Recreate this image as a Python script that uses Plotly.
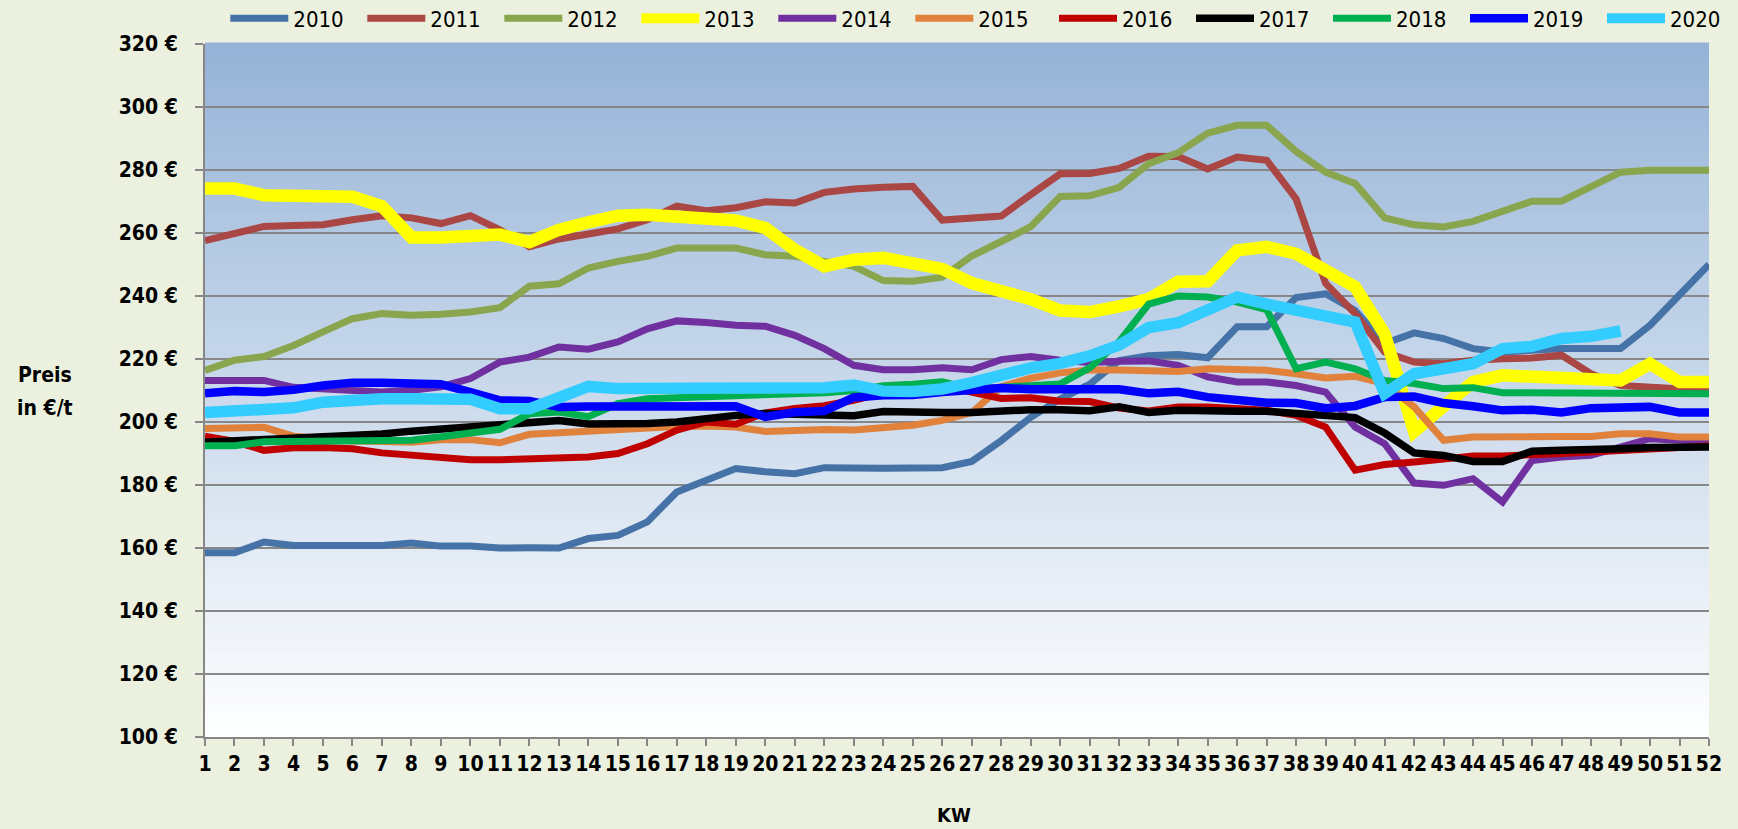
import plotly.graph_objects as go

# ---------------- data ----------------
weeks = list(range(1, 53))
week_labels = [str(w) for w in weeks]
y_ticks = [100, 120, 140, 160, 180, 200, 220, 240, 260, 280, 300, 320]
years = ["2010", "2011", "2012", "2013", "2014", "2015", "2016", "2017", "2018", "2019", "2020"]

p2010 = [158.5, 158.5, 161.9, 160.8, 160.8, 160.8, 160.8, 161.6, 160.6, 160.6, 160.0, 160.1, 160.0,
         163.0, 164.0, 168.3, 177.8, 181.5, 185.2, 184.2, 183.6, 185.5, 185.2, 185.3, 185.4, 185.5,
         187.5, 194.1, 201.5, 207.3, 212.0, 219.5, 221.0, 221.4, 220.4, 230.2, 230.2, 239.5, 240.7,
         235.4, 224.9, 228.3, 226.5, 223.3, 222.2, 222.8, 223.3, 223.3, 223.3, 230.7, 240.0, 250.0]
p2011 = [257.6, 260.0, 262.1, 262.4, 262.6, 264.2, 265.5, 264.8, 263.0, 265.5, 261.0, 255.6, 258.1,
         259.7, 261.3, 264.2, 268.5, 267.1, 268.0, 269.9, 269.5, 272.9, 274.0, 274.5, 274.8, 264.1,
         264.9, 265.4, 272.2, 278.8, 278.9, 280.5, 284.4, 284.3, 280.3, 284.1, 283.1, 270.8, 244.0,
         234.4, 222.2, 219.0, 218.5, 219.6, 220.1, 220.3, 221.2, 215.3, 211.6, 211.1, 210.6, 210.0]
p2012 = [216.4, 219.6, 220.8, 224.3, 228.6, 232.8, 234.4, 233.9, 234.2, 234.9, 236.3, 243.1, 243.9,
         248.9, 251.0, 252.6, 255.2, 255.2, 255.2, 253.1, 252.6, 251.0, 249.4, 244.9, 244.7, 246.0,
         252.7, 257.3, 262.0, 271.6, 271.8, 274.5, 282.0, 285.5, 291.7, 294.2, 294.2, 285.9, 279.3,
         275.7, 264.8, 262.6, 261.9, 263.7, 266.9, 270.1, 270.1, 274.8, 279.3, 279.9, 279.9, 279.9]
p2013 = [274.1, 274.1, 272.0, 272.0, 271.7, 271.5, 268.5, 258.6, 258.6, 258.6, 259.5, 257.1, 261.0,
         263.4, 265.5, 265.8, 265.3, 264.2, 264.0, 261.6, 254.7, 249.4, 251.5, 252.1, 250.0, 248.6,
         244.1, 242.0, 239.0, 235.4, 234.9, 236.7, 239.0, 244.5, 244.7, 254.5, 255.6, 253.4, 247.8,
         242.9, 228.0, 197.0, 205.0, 212.7, 214.8, 214.3, 213.8, 213.2, 213.2, 218.5, 212.7, 212.7]
p2014 = [213.2, 213.2, 213.2, 211.0, 210.5, 210.3, 209.5, 210.1, 211.2, 213.8, 219.0, 220.6, 223.8,
         223.1, 225.4, 229.6, 232.1, 231.6, 230.7, 230.4, 227.5, 223.3, 218.0, 216.6, 216.6, 217.2,
         216.6, 219.8, 220.8, 219.6, 218.9, 219.3, 219.4, 218.0, 214.3, 212.7, 212.7, 211.6, 209.5,
         198.4, 193.1, 180.6, 179.9, 182.0, 174.6, 187.8, 188.9, 189.4, 192.1, 194.7, 194.2, 193.7]
p2015 = [197.9, 198.3, 198.3, 195.5, 194.5, 194.0, 193.8, 193.6, 194.4, 194.4, 193.4, 196.1, 196.6,
         197.1, 198.1, 198.4, 198.6, 198.7, 198.4, 197.0, 197.5, 197.6, 197.5, 198.3, 199.0, 200.5,
         203.0, 211.2, 213.9, 215.6, 216.5, 216.5, 216.0, 216.0, 216.9, 216.4, 216.4, 215.3, 214.0,
         214.5, 212.2, 204.8, 194.2, 195.2, 195.4, 195.4, 195.4, 195.4, 196.3, 196.3, 195.2, 195.2]
p2016 = [195.5, 193.8, 191.0, 191.8, 191.9, 191.5, 190.2, 189.4, 188.7, 188.0, 188.0, 188.4, 188.4,
         188.9, 190.0, 193.1, 197.4, 200.0, 199.3, 202.9, 204.3, 205.2, 206.9, 209.0, 211.6, 211.5,
         209.5, 207.5, 207.7, 206.6, 206.5, 204.4, 203.5, 204.8, 204.8, 204.4, 203.7, 202.1, 198.4,
         184.7, 186.5, 187.3, 188.4, 189.2, 189.2, 189.4, 190.0, 190.5, 191.0, 191.5, 191.5, 192.4]
p2017 = [193.6, 194.0, 194.7, 195.3, 195.7, 195.8, 196.2, 197.1, 197.8, 198.2, 198.7, 199.7, 200.5,
         199.4, 199.3, 199.5, 200.0, 201.3, 202.1, 202.7, 202.5, 202.7, 202.0, 203.3, 202.9, 203.0,
         203.0, 203.5, 203.9, 203.9, 203.6, 204.8, 203.0, 203.7, 203.4, 203.4, 203.4, 202.9, 202.4,
         201.4, 196.5, 190.2, 189.4, 187.5, 187.5, 190.7, 191.0, 191.0, 191.5, 191.9, 191.9, 192.1]
p2018 = [192.5, 192.5, 193.7, 193.8, 193.7, 193.8, 193.9, 194.2, 195.3, 196.3, 197.7, 202.6, 203.2,
         201.7, 205.8, 207.4, 207.7, 207.9, 207.9, 208.3, 208.8, 209.3, 210.0, 211.5, 212.0, 212.8,
         210.5, 211.0, 211.5, 212.1, 217.2, 225.5, 237.4, 240.0, 239.7, 238.1, 235.7, 216.9, 219.0,
         216.9, 213.2, 212.2, 210.6, 210.9, 209.3, 209.3, 209.3, 208.8, 208.8, 208.8, 209.0, 209.0]
p2019 = [209.1, 209.8, 209.5, 210.2, 211.6, 212.5, 212.5, 212.0, 212.0, 209.5, 206.9, 206.7, 204.8,
         204.9, 205.0, 205.0, 205.0, 205.0, 205.0, 201.6, 203.1, 203.5, 207.8, 208.5, 208.6, 209.5,
         210.3, 210.8, 210.4, 210.5, 210.5, 210.4, 209.1, 209.6, 207.9, 206.7, 206.1, 206.0, 204.4,
         205.1, 207.9, 208.1, 206.0, 205.0, 203.7, 203.9, 203.0, 204.4, 204.4, 204.8, 203.0, 203.0]
p2020 = [203.0, 203.4, 203.7, 204.5, 206.3, 207.1, 207.4, 207.4, 207.4, 207.2, 204.2, 204.2, 207.7,
         211.3, 210.6, 210.6, 210.3, 211.1, 210.9, 210.7, 210.2, 210.9, 211.7, 209.8, 209.7, 210.5,
         212.5, 215.0, 217.2, 218.6, 221.0, 224.4, 230.0, 231.5, 236.0, 239.7, 237.4, 235.2, 233.3,
         231.7, 209.0, 215.3, 216.9, 218.5, 223.3, 224.0, 226.5, 227.2, 228.9]

values = [p2010, p2011, p2012, p2013, p2014, p2015, p2016, p2017, p2018, p2019, p2020]

# ---------------- styling ----------------
line_colors = ["#4572A7", "#AA4643", "#89A54E", "#FFFF00", "#7030A0", "#E0823C",
               "#C00000", "#000000", "#00B050", "#0000FF", "#33CCFF"]
line_widths = [7, 7, 7, 12.5, 7, 7, 7, 7.5, 7, 8.5, 11.5]

FONT = "DejaVu Sans Condensed, Liberation Sans Narrow, Arial Narrow, sans-serif"
GRID = "#878787"
OUTER_BG = "#EBF1DE"

fig = go.Figure()
for i, (name, vals, col, lw) in enumerate(zip(years, values, line_colors, line_widths)):
    fig.add_trace(go.Scatter(
        x=weeks[:len(vals)], y=vals, name=name, mode="lines",
        line=dict(color=col, width=lw),
        legend="legend" if i < 6 else "legend2",
        hovertemplate="KW %{x}: %{y:.1f} €/t<extra>" + name + "</extra>",
    ))

# gradient background of the plot area (top #95B3D7 -> bottom white)
top_rgb = (149, 179, 215)
bot_rgb = (255, 255, 255)
N = 90
shapes = []
for i in range(N):
    t = (i + 0.5) / N  # 0 at bottom, 1 at top
    r = round(bot_rgb[0] + (top_rgb[0] - bot_rgb[0]) * t)
    g = round(bot_rgb[1] + (top_rgb[1] - bot_rgb[1]) * t)
    b = round(bot_rgb[2] + (top_rgb[2] - bot_rgb[2]) * t)
    shapes.append(dict(type="rect", xref="paper", yref="paper", x0=0, x1=1,
                       y0=i / N, y1=(i + 1) / N + 0.002, fillcolor=f"rgb({r},{g},{b})",
                       line=dict(width=0), layer="below"))

legend_common = dict(orientation="h", xanchor="left", y=1.037, yanchor="middle",
                     bgcolor="rgba(0,0,0,0)", font=dict(family=FONT, size=22, color="#000000"),
                     itemwidth=58, entrywidth=64, entrywidthmode="pixels",
                     traceorder="normal", itemclick=False, itemdoubleclick=False)

fig.update_layout(
    width=1738, height=829,
    margin=dict(l=205, r=29, t=44, b=92, autoexpand=False),
    paper_bgcolor=OUTER_BG,
    plot_bgcolor="rgba(0,0,0,0)",
    shapes=shapes,
    showlegend=True,
    legend=dict(x=0.0135, **legend_common),
    legend2=dict(x=0.5645, **legend_common),
    xaxis=dict(range=[1, 52], tickmode="array", tickvals=weeks, ticktext=week_labels,
               tickangle=0, showgrid=False, zeroline=False,
               showline=True, linecolor=GRID, linewidth=2,
               ticks="outside", ticklen=7, tickwidth=1.5, tickcolor=GRID,
               tickfont=dict(family=FONT, size=21, color="#000000", weight="bold")),
    yaxis=dict(range=[100, 320], tickmode="array", tickvals=y_ticks,
               ticktext=[f"{v} €" for v in y_ticks],
               showgrid=True, gridcolor=GRID, gridwidth=2, zeroline=False,
               showline=True, linecolor=GRID, linewidth=2,
               ticks="outside", ticklen=8, tickwidth=1.5, tickcolor=GRID,
               ticklabelstandoff=13,
               tickfont=dict(family=FONT, size=21, color="#000000", weight="bold")),
    annotations=[
        dict(text="Preis", xref="paper", yref="paper", x=-0.1063, y=0.5224,
             xanchor="center", yanchor="middle", showarrow=False,
             font=dict(family=FONT, size=21, color="#000000", weight="bold")),
        dict(text="in €/t", xref="paper", yref="paper", x=-0.1063, y=0.4747,
             xanchor="center", yanchor="middle", showarrow=False,
             font=dict(family=FONT, size=21, color="#000000", weight="bold")),
        dict(text="KW", xref="paper", yref="paper", x=0.498, y=-0.113,
             xanchor="center", yanchor="middle", showarrow=False,
             font=dict(family=FONT, size=20, color="#000000", weight="bold")),
    ],
)

fig.write_html("out.html",
               config={"displayModeBar": False},
               post_script="document.body.style.margin='0';document.body.style.padding='0';"
                           "document.body.style.overflow='hidden';")
